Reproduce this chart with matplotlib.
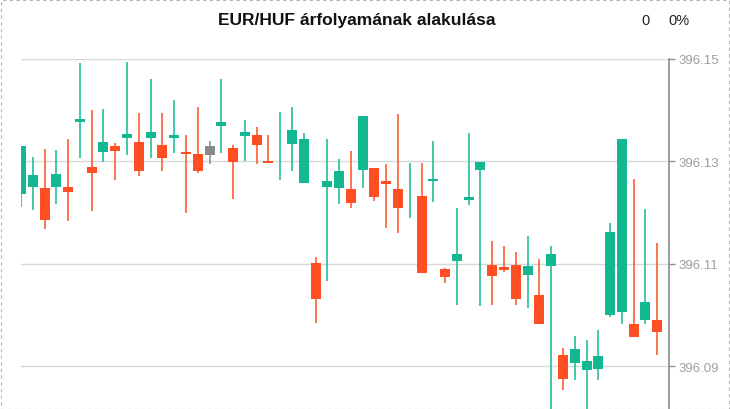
import matplotlib
matplotlib.use("Agg")
import matplotlib.pyplot as plt
from matplotlib.patches import Rectangle
import numpy as np

plt.rcParams['font.family'] = ['Liberation Sans', 'DejaVu Sans']

title = "EUR/HUF árfolyamának alakulása"
change_abs = "0"
change_pct = "0%"

opens = [396.1237, 396.1250, 396.1248, 396.1250, 396.1250, 396.1376, 396.1289, 396.1319, 396.1330, 396.1346,
         396.1338, 396.1346, 396.1332, 396.1346, 396.1319, 396.1314, 396.1313, 396.1370, 396.1326, 396.1350,
         396.1351, 396.1301, 396.13000, 396.1334, 396.1258, 396.1101, 396.1250, 396.1247, 396.1246, 396.1284,
         396.1287, 396.1262, 396.1246, 396.12500, 396.1232, 396.1262, 396.1090, 396.1106, 396.1225, 396.1284,
         396.1098, 396.1093, 396.1098, 396.1078, 396.1039, 396.1096, 396.0922, 396.0906, 396.0893, 396.0895,
         396.1000, 396.1006, 396.0982, 396.0989, 396.0990]
highs = [396.1330, 396.1308, 396.1324, 396.1322, 396.1344, 396.1492, 396.1400, 396.1402, 396.1336, 396.1494,
         396.1394, 396.1461, 396.1394, 396.1420, 396.1351, 396.1406, 396.1340, 396.1461, 396.1332, 396.1381,
         396.1367, 396.1351, 396.1396, 396.1406, 396.1355, 396.1113, 396.1344, 396.1305, 396.1320, 396.1389,
         396.1287, 396.1295, 396.1393, 396.1297, 396.1297, 396.1340, 396.1092, 396.1209, 396.1355, 396.1299,
         396.1144, 396.1135, 396.1123, 396.1154, 396.1109, 396.1135, 396.0935, 396.0959, 396.0951, 396.0970,
         396.1179, 396.1344, 396.1265, 396.1207, 396.1140]
lows = [396.1211, 396.1204, 396.1168, 396.1217, 396.1184, 396.1307, 396.1202, 396.1299, 396.1264, 396.1313,
        396.1272, 396.1307, 396.1282, 396.1317, 396.1200, 396.1278, 396.1295, 396.1317, 396.1227, 396.1301,
        396.1295, 396.1297, 396.1264, 396.1282, 396.1258, 396.0984, 396.1067, 396.1217, 396.1209, 396.1247,
        396.1223, 396.1170, 396.1159, 396.1190, 396.1082, 396.1221, 396.1063, 396.1020, 396.1215, 396.1018,
        396.1020, 396.1084, 396.1020, 396.1014, 396.0983, 396.0790, 396.0854, 396.0873, 396.0800, 396.0873,
        396.0996, 396.0982, 396.0957, 396.0982, 396.0922]
closes = [396.1330, 396.1273, 396.1186, 396.1275, 396.1241, 396.1383, 396.1278, 396.1338, 396.1321, 396.1353,
          396.1282, 396.1357, 396.1307, 396.1351, 396.1315, 396.1282, 396.1330, 396.1377, 396.1299, 396.1357,
          396.1331, 396.1297, 396.13005, 396.1361, 396.1344, 396.1030, 396.1262, 396.1281, 396.1219, 396.1389,
          396.1231, 396.1256, 396.1209, 396.12505, 396.1082, 396.1265, 396.1073, 396.1119, 396.1230, 396.1299,
          396.1076, 396.1088, 396.1030, 396.1095, 396.0983, 396.1119, 396.0875, 396.0933, 396.0910, 396.0920,
          396.1162, 396.1344, 396.0957, 396.1025, 396.0967]
neutral_idx = [16]
y_ticks = [396.09, 396.11, 396.13, 396.15]

UP = "#13b893"
DOWN = "#ff4f22"
NEUTRAL = "#8a8a8a"

W, H = 730, 410
fig = plt.figure(figsize=(W / 100, H / 100), dpi=100)

px_per_unit = (367 - 60) / 0.06
left, right, top, bottom = 21, 669, 60, 410
ax = fig.add_axes([left / W, (H - bottom) / H, (right - left) / W, (bottom - top) / H])

o = np.array(opens); c = np.array(closes); h = np.array(highs); l = np.array(lows)
x = np.arange(len(o))
colors = [NEUTRAL if i in neutral_idx else (UP if c[i] >= o[i] else DOWN) for i in range(len(o))]

ax.vlines(x, l, h, colors=colors, linewidth=1.1, zorder=2)
ax.bar(x, np.abs(c - o), bottom=np.minimum(o, c), width=0.85, color=colors, linewidth=0, zorder=3)

ax.set_xlim(0, len(o))
ax.set_ylim(396.15 - (bottom - top) / px_per_unit, 396.15)

for s in ['left', 'top', 'bottom']:
    ax.spines[s].set_visible(False)
ax.spines['right'].set_color('#8c8c8c')
ax.spines['right'].set_linewidth(1.2)
ax.spines['right'].set_zorder(5)

ax.set_xticks([])
ax.yaxis.tick_right()
ax.set_yticks(y_ticks)
ax.set_yticklabels([f"{v:.2f}" for v in y_ticks])
ax.tick_params(axis='y', direction='out', length=4.5, width=1.0, color='#8c8c8c',
               labelcolor='#9b9ea4', labelsize=9.5, pad=2)
ax.yaxis.grid(True, color='#d6d8db', linewidth=1.0, zorder=0)
ax.set_axisbelow(True)
ax.patch.set_alpha(0)

fig.text(357 / W, 1 - 21 / H, title, ha='center', va='center', fontsize=12.5,
         fontweight='bold', color='#111111')
fig.text(645 / W, 1 - 21 / H, change_abs, ha='center', va='center', fontsize=10.5, color='#222222')
fig.text(679 / W, 1 - 21 / H, change_pct, ha='center', va='center', fontsize=10.5, color='#222222')

fig.patches.append(Rectangle((0.5 / W, 0.5 / H), 1 - 1.5 / W, 1 - 1.5 / H, transform=fig.transFigure,
                             fill=False, edgecolor='#b5b5b5', linewidth=0.8, linestyle=(0, (3, 3))))

fig.savefig("out.png", dpi=100)
